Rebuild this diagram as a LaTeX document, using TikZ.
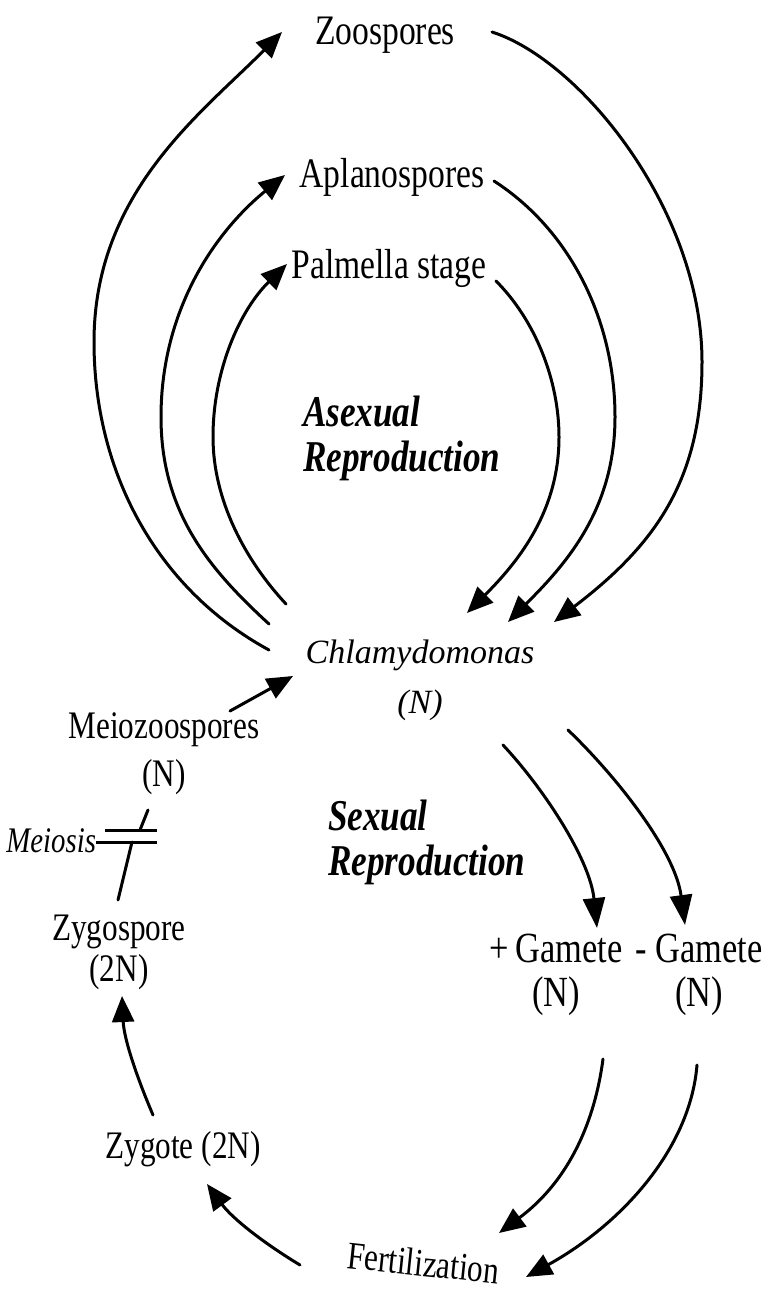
\documentclass[tikz,border=0pt]{standalone}
\usepackage{fontspec}
\setmainfont{Liberation Serif}
\newfontfamily\cnd{Liberation Serif}[FakeStretch=0.8]
\usetikzlibrary{arrows.meta}
\tikzset{
  lbl/.style={inner sep=0pt, outer sep=0pt, align=center},
  big/.style={lbl, font=\cnd\fontsize{42}{44}\selectfont},
  mid/.style={lbl, font=\cnd\fontsize{39}{48}\selectfont},
  gam/.style={lbl, font=\cnd\fontsize{43}{44}\selectfont},
  bi/.style={lbl, align=left, font=\cnd\bfseries\itshape\fontsize{44}{45}\selectfont},
  chlf/.style={lbl, font=\itshape\fontsize{34}{50}\selectfont},
  mis/.style={lbl, font=\cnd\itshape\fontsize{36}{40}\selectfont},
  plain/.style={line width=3pt, line cap=round},
  conn/.style={plain, -{Triangle[length=26pt,width=22pt]}},
  connb/.style={plain, -{Triangle[length=30pt,width=22pt]}},
}
\begin{document}
\begin{tikzpicture}[x=1pt,y=-1pt]
\fill[white] (0,0) rectangle (771,1292);
\useasboundingbox (0,0) rectangle (771,1292);

% labels (multi-line nodes: base = baseline of the last line)
\node[big, anchor=base] (zoo) at (385,45) {Zoospores};
\node[big, anchor=base] (apl) at (392,188) {Aplanospores};
\node[big, anchor=base] (pal) at (389,278) {Palmella stage};
\node[bi, anchor=west] (asex) at (303,438) {Asexual\\Reproduction};
\node[chlf, anchor=base] (chl) at (420,713) {Chlamydomonas\\(N)};
\node[mid, anchor=base] (meio) at (164,786) {Meiozoospores\\(N)};
\node[mis, anchor=base east] (meiosis) at (96,852) {Meiosis};
\node[mid, anchor=base, font=\cnd\fontsize{39}{41}\selectfont] (zygs) at (119,981) {Zygospore\\(2N)};
\node[mid, anchor=base] (zyg) at (183,1158) {Zygote (2N)};
\node[mid, anchor=base, rotate=-6] (fert) at (422,1276) {Fertilization};
\node[gam, anchor=base] (gp) at (556,1006) {+\,Gamete\\(N)};
\node[gam, anchor=base] (gm) at (699,1006) {- Gamete\\(N)};
\node[bi, anchor=west] (sex) at (328,842) {Sexual\\Reproduction};

% connector end points
\coordinate (chl-o) at (269,650);
\coordinate (chl-m) at (269,624);
\coordinate (chl-i) at (286,604);
\coordinate (zoo-w) at (282,32);
\coordinate (apl-w) at (285,175);
\coordinate (pal-w) at (287,264);
\coordinate (zoo-e) at (492,32);
\coordinate (apl-e) at (494,181);
\coordinate (pal-e) at (496,281);
\coordinate (chl-ti) at (467,613);
\coordinate (chl-tm) at (508,622);
\coordinate (chl-to) at (554,622);
\coordinate (meio-ne) at (230,711);
\coordinate (chl-sw) at (293,676);
\coordinate (chl-s1) at (503,745);
\coordinate (chl-s2) at (568,730);
\coordinate (gp-n) at (597,928);
\coordinate (gm-n) at (685,925);
\coordinate (gp-s) at (603,1059);
\coordinate (gm-s) at (697,1065);
\coordinate (fert-n1) at (499,1233);
\coordinate (fert-ne) at (526,1277);
\coordinate (fert-w) at (300,1265);
\coordinate (zyg-e) at (207,1184);
\coordinate (zyg-n) at (153,1115);
\coordinate (zygs-s) at (122,996);
\coordinate (meio-s) at (148,810);
\coordinate (bar1) at (140,830);
\coordinate (bar2) at (132,842);
\coordinate (zygs-n) at (118,900);

% asexual cycle
\draw[conn] (chl-o) .. controls (155,588) and (94,470) .. (94,342)
                    .. controls (94,192) and (202,113) .. (zoo-w);
\draw[conn] (chl-m) .. controls (209,569) and (161,512) .. (161,417)
                    .. controls (161,310) and (215,232) .. (apl-w);
\draw[conn] (chl-i) .. controls (245,560) and (213,500) .. (213,437)
                    .. controls (213,370) and (240,310) .. (pal-w);
\draw[conn] (zoo-e) .. controls (580,60) and (702,210) .. (702,362)
                    .. controls (702,480) and (655,545) .. (chl-to);
\draw[conn] (apl-e) .. controls (570,230) and (615,320) .. (615,417)
                    .. controls (615,510) and (565,565) .. (chl-tm);
\draw[conn] (pal-e) .. controls (535,320) and (559,380) .. (559,437)
                    .. controls (559,510) and (520,560) .. (chl-ti);

% sexual cycle
\draw[conn] (meio-ne) -- (chl-sw);
\draw[connb] (chl-s1) .. controls (545,790) and (590,860) .. (gp-n);
\draw[connb] (chl-s2) .. controls (615,775) and (675,850) .. (gm-n);
\draw[conn] (gp-s) .. controls (595,1120) and (570,1180) .. (fert-n1);
\draw[conn] (gm-s) .. controls (690,1150) and (620,1225) .. (fert-ne);
\draw[conn] (fert-w) .. controls (262,1242) and (232,1218) .. (zyg-e);
\draw[conn] (zyg-n) .. controls (138,1080) and (124,1040) .. (zygs-s);

% meiosis mark
\draw[plain] (meio-s) -- (bar1);
\draw[plain] (bar2) -- (zygs-n);
\draw[plain, line cap=butt] (105,830) -- (157,830);
\draw[plain, line cap=butt] (meiosis.base east |- bar2) -- (157,842);
\end{tikzpicture}
\end{document}
